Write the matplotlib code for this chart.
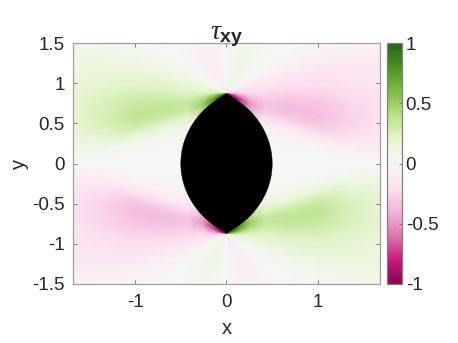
import numpy as np
import matplotlib
matplotlib.use("Agg")
import matplotlib.pyplot as plt
from matplotlib.patches import Polygon

plt.rcParams['font.family'] = ['Liberation Sans', 'DejaVu Sans']
plt.rcParams['axes.unicode_minus'] = False
plt.rcParams['mathtext.fontset'] = 'custom'
plt.rcParams['mathtext.rm'] = 'Liberation Sans'
plt.rcParams['mathtext.it'] = 'Liberation Serif:italic'
plt.rcParams['mathtext.bf'] = 'Liberation Sans:bold'

title = r'$\tau_{\mathbf{xy}}$'
x_ticks = [-1, 0, 1]
y_ticks = [-1.5, -1, -0.5, 0, 0.5, 1, 1.5]
y_labels = ['-1.5', '-1', '-0.5', '0', '0.5', '1', '1.5']
c_ticks = [-1, -0.5, 0, 0.5, 1]
c_labels = ['-1', '-0.5', '0', '0.5', '1']
x_limit = 1.68
y_limit = 1.5

# Field: upper right quadrant, along rays leaving the lens tip.
ray_angles = [90, 80, 70, 60, 50, 42, 35, 27, 20.67, 15, 5, -5, -15, -22, -27.27, -34, -42, -50, -60]
ray_fractions = [0, .03, .08, .15, .25, .4, .6, .8, 1]
tau_rays = np.array([
    [.00, .00, .00, .00, .00, .00, .00, .00, .00],
    [.10, .10, .09, .08, .07, .06, .06, .05, .05],
    [.12, .12, .12, .11, .10, .09, .08, .07, .06],
    [.08, .09, .11, .11, .10, .09, .08, .06, .05],
    [.02, .04, .06, .06, .06, .05, .04, .03, .02],
    [-.04, -.03, -.01, .00, .01, .01, .00, .00, .00],
    [-.08, -.07, -.05, -.04, -.03, -.03, -.03, -.03, -.03],
    [-.14, -.12, -.10, -.09, -.08, -.07, -.06, -.05, -.05],
    [-.20, -.17, -.14, -.13, -.12, -.11, -.10, -.08, -.06],
    [-.28, -.22, -.17, -.16, -.16, -.16, -.15, -.12, -.10],
    [-.45, -.32, -.22, -.20, -.21, -.23, -.22, -.18, -.14],
    [-.75, -.60, -.45, -.30, -.27, -.31, -.31, -.25, -.19],
    [-.95, -.80, -.60, -.42, -.33, -.36, -.37, -.26, -.17],
    [-1.0, -.90, -.70, -.48, -.33, -.33, -.30, -.18, -.08],
    [-1.0, -.95, -.85, -.50, -.30, -.24, -.16, -.07, .00],
    [-.80, -.75, -.62, -.40, -.22, -.13, -.07, -.02, .00],
    [-.12, -.11, -.10, -.09, -.07, -.05, -.02, -.01, .00],
    [-.04, -.04, -.03, -.03, -.02, -.02, -.01, .00, .00],
    [.01, .01, .01, .01, .00, .00, .00, .00, .00],
])

# Lens (black region): two unit circles centred at x = +/-0.5.
radius = 1.0
offset = 0.5
tip_y = np.sqrt(radius**2 - offset**2)


def ray_mesh():
    th = np.radians(ray_angles)
    X = np.zeros((len(th), len(ray_fractions)))
    Y = np.zeros_like(X)
    for i, t in enumerate(th):
        cx, cy = np.cos(t), np.sin(t)
        ends = []
        if cy > 1e-9:
            ends.append((y_limit - tip_y) / cy)
        if cy < -1e-9:
            ends.append(tip_y / -cy)
        if cx > 1e-9:
            ends.append(x_limit / cx)
        end = min(ends)
        # ray start: where it leaves the right lens arc (circle centred at -offset)
        b = (cx * offset + cy * tip_y)
        start = max(0.0, -2 * b)
        for j, s in enumerate(ray_fractions):
            r = start + s * (end - start)
            X[i, j] = r * cx
            Y[i, j] = tip_y + r * cy
    return X, Y


fig = plt.figure(figsize=(4.58, 3.43), dpi=100)
W, H = 458, 343
ax = fig.add_axes([73 / W, 1 - 284 / H, 307 / W, 241 / H])

X, Y = ray_mesh()
mesh = None
for sx in (1, -1):
    for sy in (1, -1):
        mesh = ax.pcolormesh(sx * X, sy * Y, sx * sy * tau_rays, shading='gouraud',
                             cmap='PiYG', vmin=-1, vmax=1, rasterized=True)

a = np.linspace(-np.pi / 3, np.pi / 3, 200)
right = np.c_[radius * np.cos(a) - offset, radius * np.sin(a)]
ax.add_patch(Polygon(np.r_[right, right[::-1] * [-1, 1]], closed=True,
                     fc='black', ec='black', lw=0.3, zorder=3))

grey = '#707070'
text_col = '#262626'
ax.set_xlim(-x_limit, x_limit)
ax.set_ylim(-y_limit, y_limit)
ax.set_xticks(x_ticks)
ax.set_xticklabels([str(v) for v in x_ticks])
ax.set_yticks(y_ticks)
ax.set_yticklabels(y_labels)
ax.tick_params(direction='in', length=3, width=0.6, color=grey, top=True, right=True,
               labelsize=13.5, labelcolor=text_col)
ax.tick_params(axis='x', pad=7)
ax.tick_params(axis='y', pad=6)
for sp in ax.spines.values():
    sp.set_color('#a0a0a0')
    sp.set_linewidth(0.9)
ax.set_xlabel('x', fontsize=14.5, color=text_col, labelpad=6)
ax.set_ylabel('y', fontsize=14.5, color=text_col, labelpad=2)
ax.set_title(title, fontsize=20, color=text_col, pad=3)

cax = fig.add_axes([387 / W, 1 - 284 / H, 14.5 / W, 241 / H])
cb = fig.colorbar(mesh, cax=cax)
cb.set_ticks(c_ticks)
cb.set_ticklabels(c_labels)
cb.ax.tick_params(direction='in', length=2, width=0.6, color=grey, labelsize=13.5,
                  labelcolor=text_col, pad=3)
cb.outline.set_edgecolor('#808080')
cb.outline.set_linewidth(0.9)

fig.savefig('out.png', dpi=100)
